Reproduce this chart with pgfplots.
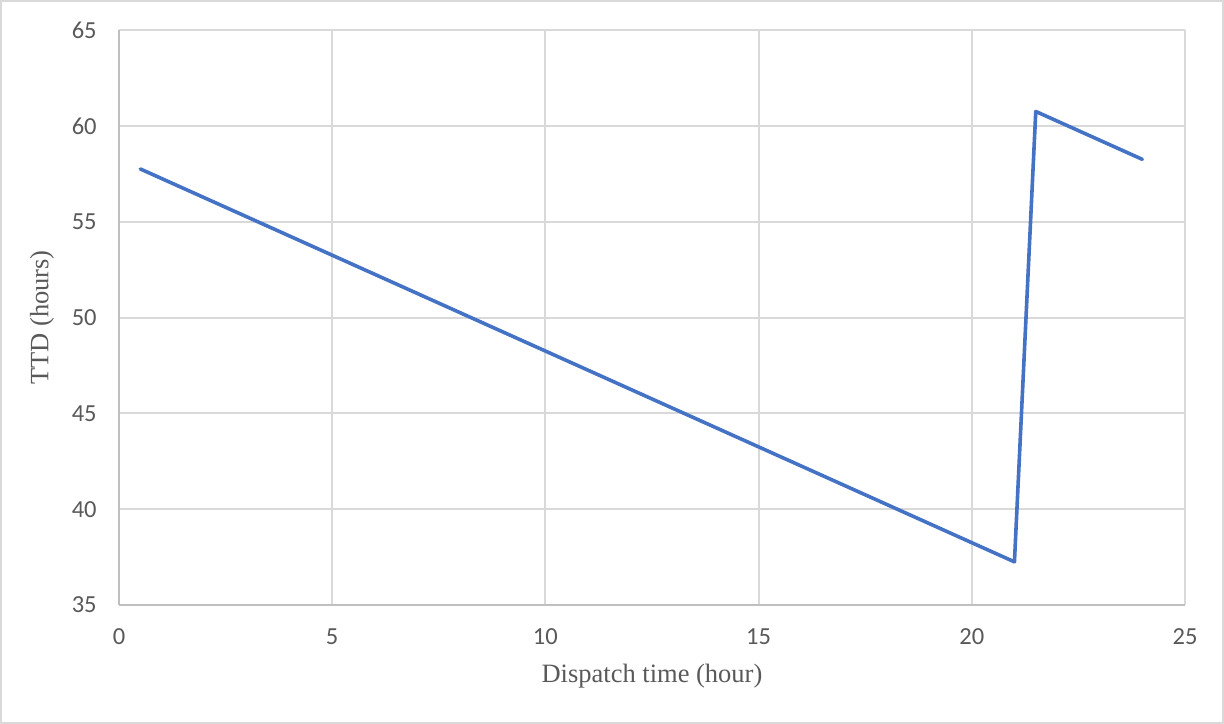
\documentclass[border=0pt]{standalone}
\usepackage{fontspec}
\setmainfont{Liberation Serif}
\newfontfamily\carlito{Carlito}
\usepackage{pgfplots}
\pgfplotsset{compat=1.18}
\definecolor{gridc}{HTML}{D9D9D9}
\definecolor{axc}{HTML}{BFBFBF}
\definecolor{txtc}{HTML}{595959}
\definecolor{linec}{HTML}{4472C4}
\begin{document}
\begin{tikzpicture}
\useasboundingbox (-59.5bp,-59.5bp) rectangle (552.5bp,302.5bp);
\draw[gridc, line width=1bp] (-59bp,-59bp) rectangle (552bp,302bp);
\begin{axis}[
  at={(0,0)}, anchor=south west,
  scale only axis,
  width=533bp, height=287.5bp,
  xmin=0, xmax=25, ymin=35, ymax=65,
  xtick={0,5,...,25}, ytick={35,40,...,65},
  grid=major,
  major grid style={color=gridc, line width=1bp},
  axis line style={draw=none},
  major tick length=0pt,
  /pgf/number format/assume math mode=true,
  ticklabel style={font=\carlito\fontsize{12.3}{14}\selectfont, text=txtc, inner sep=0pt},
  xticklabel style={anchor=north, yshift=-11.5bp},
  yticklabel style={anchor=east, xshift=-11bp},
  xlabel={Dispatch time (hour)},
  ylabel={TTD (hours)},
  label style={font=\fontsize{13.3}{15}\selectfont, text=txtc},
  xlabel style={at={(axis description cs:0.5,0)}, anchor=center, yshift=-35.5bp},
  ylabel style={at={(axis description cs:0,0.5)}, anchor=center, yshift=38.5bp},
  clip=false,
]
\draw[axc, line width=1bp] (axis cs:0,35) -- (axis cs:25,35);
\draw[axc, line width=1bp] (axis cs:0,35) -- (axis cs:0,65);
\addplot[linec, line width=1.8bp, line join=round, line cap=round] coordinates {
  (0.5,57.75) (21,37.25) (21.5,60.75) (24,58.25)
};
\end{axis}
\end{tikzpicture}
\end{document}
